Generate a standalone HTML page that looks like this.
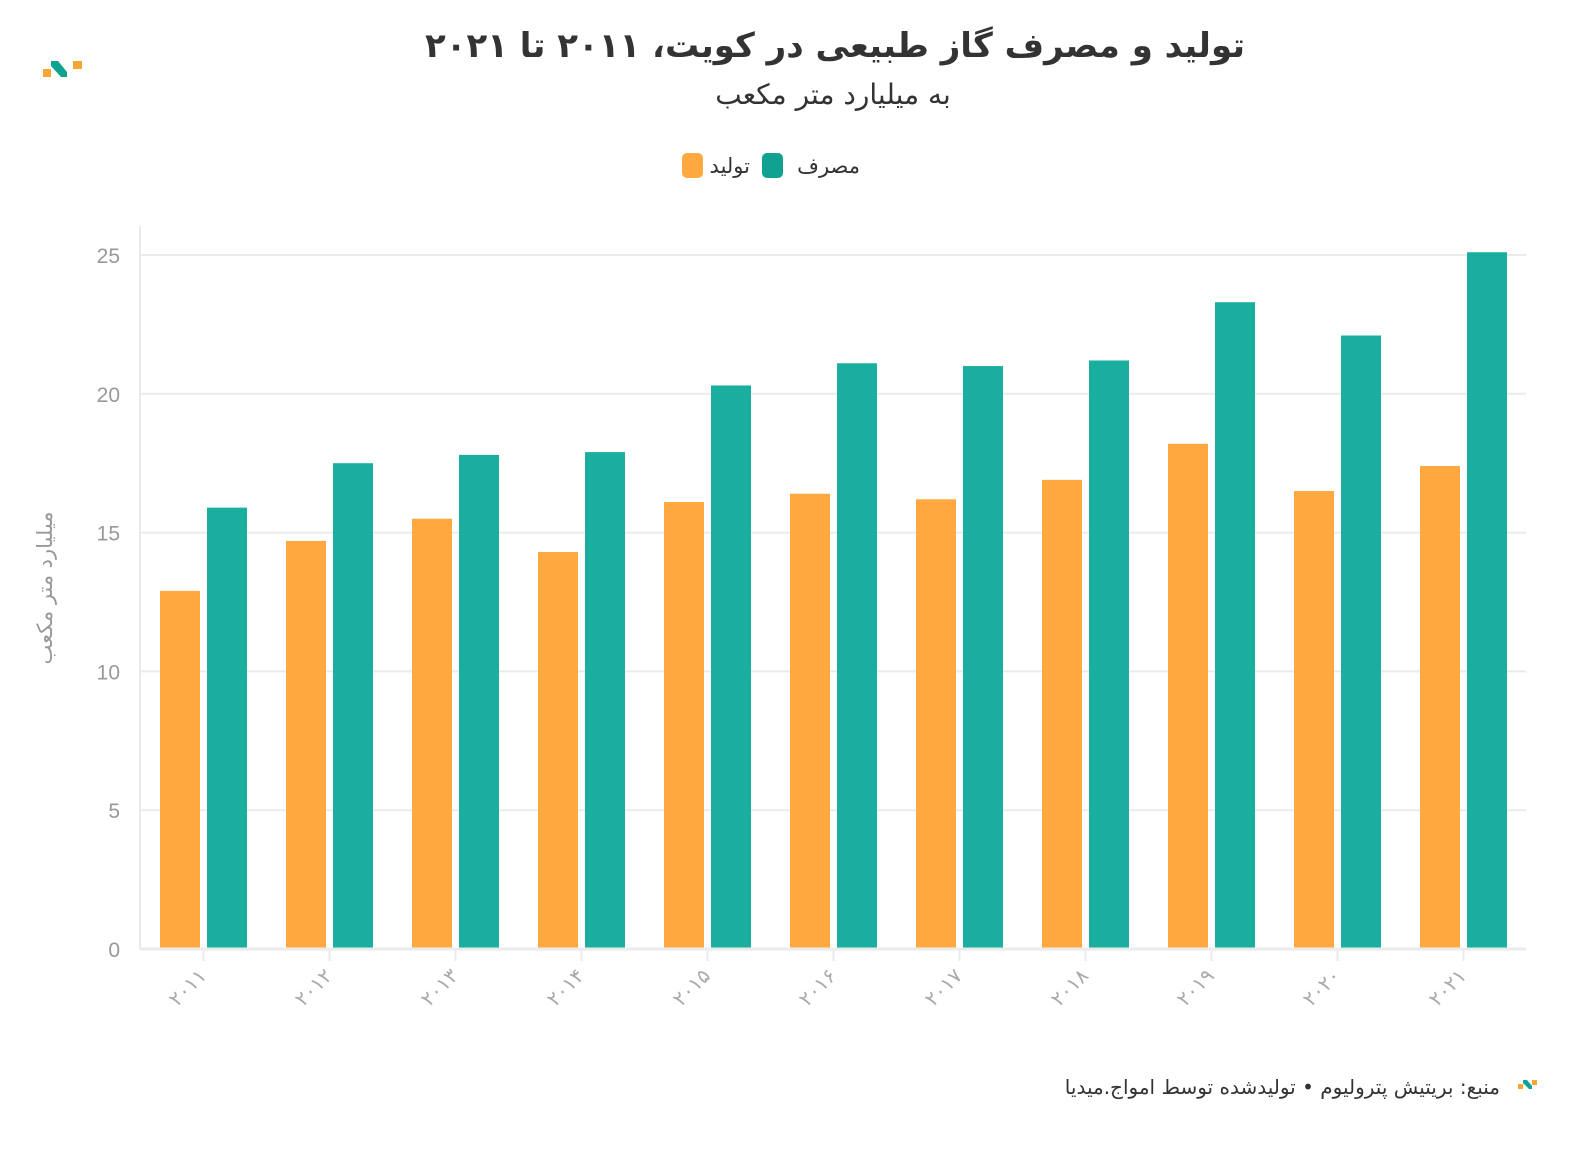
<!DOCTYPE html>
<html><head><meta charset="utf-8"><style>
body{margin:0;background:#fff;width:1592px;height:1150px;overflow:hidden;font-family:"Liberation Sans","Noto Sans CJK SC",sans-serif}
</style></head><body>
<svg width="1592" height="1150" xmlns="http://www.w3.org/2000/svg">
<g>
<rect x="43" y="69" width="8" height="8" fill="#f7a535"/>
<path d="M51 61 L58 61 L67 72 L67 77 L61 77 L51 66 Z" fill="#0fa291"/>
<rect x="73" y="61" width="9" height="8" fill="#f7a535"/>
</g>
<text x="835" y="57" text-anchor="middle" font-size="34" font-weight="bold" fill="#333" direction="rtl" font-family="'DejaVu Sans',sans-serif">تولید و مصرف گاز طبیعی در کویت، ۲۰۱۱ تا ۲۰۲۱</text>
<text x="833" y="104" text-anchor="middle" font-size="28" fill="#333" direction="rtl" font-family="'DejaVu Sans',sans-serif">به میلیارد متر مکعب</text>
<g>
<rect x="682" y="153" width="21" height="25" rx="5" fill="#ffa940"/>
<text x="750" y="173" text-anchor="end" font-size="21" fill="#333" font-family="'DejaVu Sans',sans-serif">تولید</text>
<rect x="762" y="153" width="21" height="25" rx="5" fill="#0fa291"/>
<text x="860" y="173" text-anchor="end" font-size="21" fill="#333" font-family="'DejaVu Sans',sans-serif">مصرف</text>
</g>
<g id="plot"></g>
<text transform="translate(52,588) rotate(-90)" text-anchor="middle" font-size="21" fill="#999" font-family="'DejaVu Sans',sans-serif">میلیارد متر مکعب</text>
<text x="1500" y="1094" text-anchor="start" font-size="20" fill="#333" direction="rtl" font-family="'DejaVu Sans',sans-serif">منبع: بریتیش پترولیوم • تولیدشده توسط امواج.میدیا</text>
<g>
<rect x="1518" y="1084" width="5" height="5" fill="#f7a535"/>
<path d="M1523 1080 L1527 1080 L1532 1086 L1532 1089 L1529 1089 L1523 1083 Z" fill="#0fa291"/>
<rect x="1532" y="1080" width="5" height="5" fill="#f7a535"/>
</g>
</svg>
<script>
const years=["۲۰۱۱","۲۰۱۲","۲۰۱۳","۲۰۱۴","۲۰۱۵","۲۰۱۶","۲۰۱۷","۲۰۱۸","۲۰۱۹","۲۰۲۰","۲۰۲۱"];
const production=[12.9,14.7,15.5,14.3,16.1,16.4,16.2,16.9,18.2,16.5,17.4];
const consumption=[15.9,17.5,17.8,17.9,20.3,21.1,21.0,21.2,23.3,22.1,25.1];
const yTicks=[0,5,10,15,20,25];
const NS="http://www.w3.org/2000/svg";
const g=document.getElementById('plot');
const L=140,R=1526,T=226,B=949;
const band=(R-L)/years.length;
const y=v=>B-v*(B-255)/25;
const x=i=>L+i*band;
function mk(t,a){const e=document.createElementNS(NS,t);for(const k in a)e.setAttribute(k,a[k]);g.appendChild(e);return e;}
yTicks.forEach(t=>{
  const l=mk('line',{x1:L,x2:R,y1:y(t),y2:y(t),stroke:'#ebebeb','stroke-width':2});
  
  
  const tx=mk('text',{x:120,y:y(t)+8,'text-anchor':'end','font-size':21,fill:'#999'});
  tx.textContent=t;
  
  
});
const ax=mk('line',{x1:L,x2:L,y1:T,y2:B,stroke:'#ebebeb','stroke-width':2});


years.forEach((yr,i)=>{
  const b1=mk('rect',{x:x(i)+20,y:y(production[i]),width:40,height:B-y(production[i]),fill:'#ffa940'});
  
  
  const b2=mk('rect',{x:x(i)+67,y:y(consumption[i]),width:40,height:B-y(consumption[i]),fill:'#1aae9f'});
  
  
  const cx=x(i)+63.5;
  const tk=mk('line',{x1:cx,x2:cx,y1:B,y2:B+12,stroke:'#ebebeb','stroke-width':2});
  
  
  const tl=mk('text',{transform:`translate(${cx+4},${B+28}) rotate(-45)`,'text-anchor':'end','font-size':20,fill:'#aaa','font-family':"'DejaVu Sans',sans-serif"});
  tl.textContent=yr;
  
  
});
const bl=mk('line',{x1:L,x2:R,y1:B,y2:B,stroke:'#ebebeb','stroke-width':3});


</script>
</body></html>
